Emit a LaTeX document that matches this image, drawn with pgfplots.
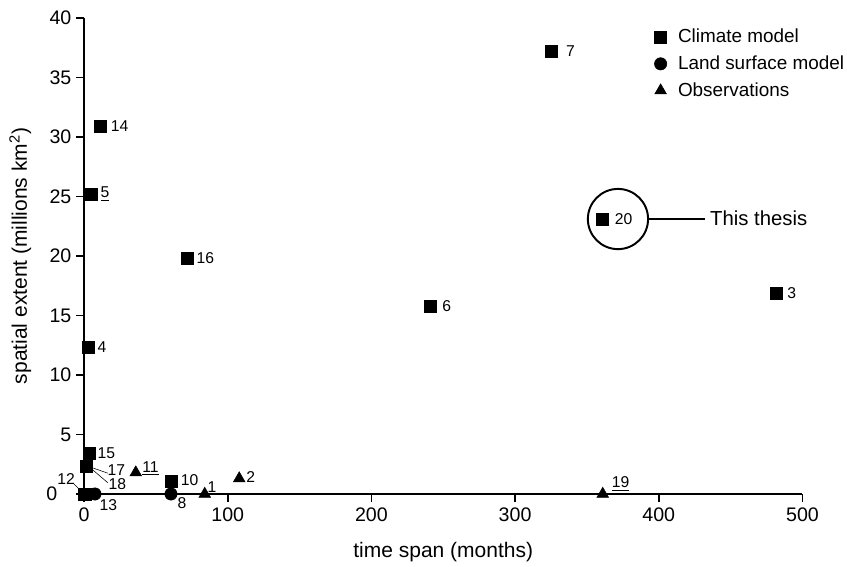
\documentclass[border=0pt]{standalone}
\usepackage{fontspec}
\setmainfont{Liberation Sans}
\usepackage{pgfplots}
\pgfplotsset{compat=1.18}
\begin{document}
\begin{tikzpicture}
\begin{axis}[
  scale only axis, width=513pt, height=340pt,
  xmin=0, xmax=500, ymin=0, ymax=40,
  axis x line=bottom, axis y line=left,
  axis line style={line width=1.4pt, -},
  every tick/.style={line width=1.2pt, black},
  tick align=outside, major tick length=5.5pt,
  xtick={0,100,...,500}, ytick={0,5,...,40},
  yticklabels={{0\kern10pt},5,10,15,20,25,30,35,40},
  /pgf/number format/assume math mode=true,
  ticklabel style={font=\fontsize{14}{16}\selectfont},
  xticklabel style={yshift=-1pt},
  xlabel={time span (months)}, ylabel={spatial extent (millions km\textsuperscript{2})},
  label style={font=\fontsize{15}{17}\selectfont},
  xlabel style={yshift=-8pt}, ylabel style={yshift=4pt},
  clip=false,
  legend style={draw=none, fill=none, at={(0.794,0.982)}, anchor=north west,
    inner sep=0pt, outer sep=0pt, nodes={inner xsep=1pt},
    font=\fontsize{13.5}{15}\selectfont, row sep=3.8pt, legend cell align=left,
    /tikz/every odd column/.append style={column sep=7pt}},
]
\addplot[only marks, mark=square*, mark size=4.3pt, black] coordinates {
 (325,37.2) (11,30.9) (5,25.2) (72,19.8) (361,23.1) (241,15.8) (482,16.9)
 (3,12.3) (3.5,3.45) (1.4,2.3) (60.5,1.1) (0.5,0)
};
\addlegendentry{Climate model}
\addplot[only marks, mark=*, mark size=4.4pt, black] coordinates {
 (7.6,0) (60.5,0)
};
\addlegendentry{Land surface model}
\addplot[only marks, mark=triangle*, mark size=4.8pt, black] coordinates {
 (36,1.8) (84,0) (108,1.3) (361,0)
};
\addlegendentry{Observations}
\begin{scope}[every node/.style={font=\fontsize{11.2}{13}\selectfont, inner sep=0pt}]
\node at (axis cs:338.5,37.2) {7};
\node at (axis cs:24.8,30.9) {14};
\node at (axis cs:14.6,25.2) {\underline{5}};
\node at (axis cs:84.5,19.8) {16};
\node at (axis cs:375.5,23.1) {20};
\node at (axis cs:252.5,15.8) {6};
\node at (axis cs:492.5,16.9) {3};
\node at (axis cs:12.5,12.3) {4};
\node at (axis cs:15.6,3.45) {15};
\node at (axis cs:22.5,2.0) {17};
\node at (axis cs:23.2,0.8) {18};
\node at (axis cs:-12.5,1.25) {12};
\node at (axis cs:16.9,-0.92) {13};
\node at (axis cs:68.2,-0.76) {8};
\node at (axis cs:73.4,1.18) {10};
\node at (axis cs:89,0.59) {1};
\node at (axis cs:116,1.43) {2};
\node at (axis cs:46.2,2.18) {\underline{11}};
\node at (axis cs:373.5,0.84) {\underline{19}};
\end{scope}
\draw[thin] (axis cs:6.3,2.18) -- (axis cs:16.5,1.75);
\draw[thin] (axis cs:6.3,2.0) -- (axis cs:16.5,0.95);
\draw[thin] (axis cs:-7.7,0.92) -- (axis cs:-1.4,0.17);
\draw[line width=1.4pt] (axis cs:371.6,23.1) circle [radius=21.5pt];
\draw[line width=1.4pt] (axis cs:393,23.1) -- (axis cs:432,23.1);
\node[anchor=west, inner sep=0pt, font=\fontsize{14.5}{16}\selectfont] at (axis cs:435.6,23.2) {This thesis};
\path (axis cs:-58.5,-6.05) rectangle (axis cs:531,41.5);
\end{axis}
\end{tikzpicture}
\end{document}
